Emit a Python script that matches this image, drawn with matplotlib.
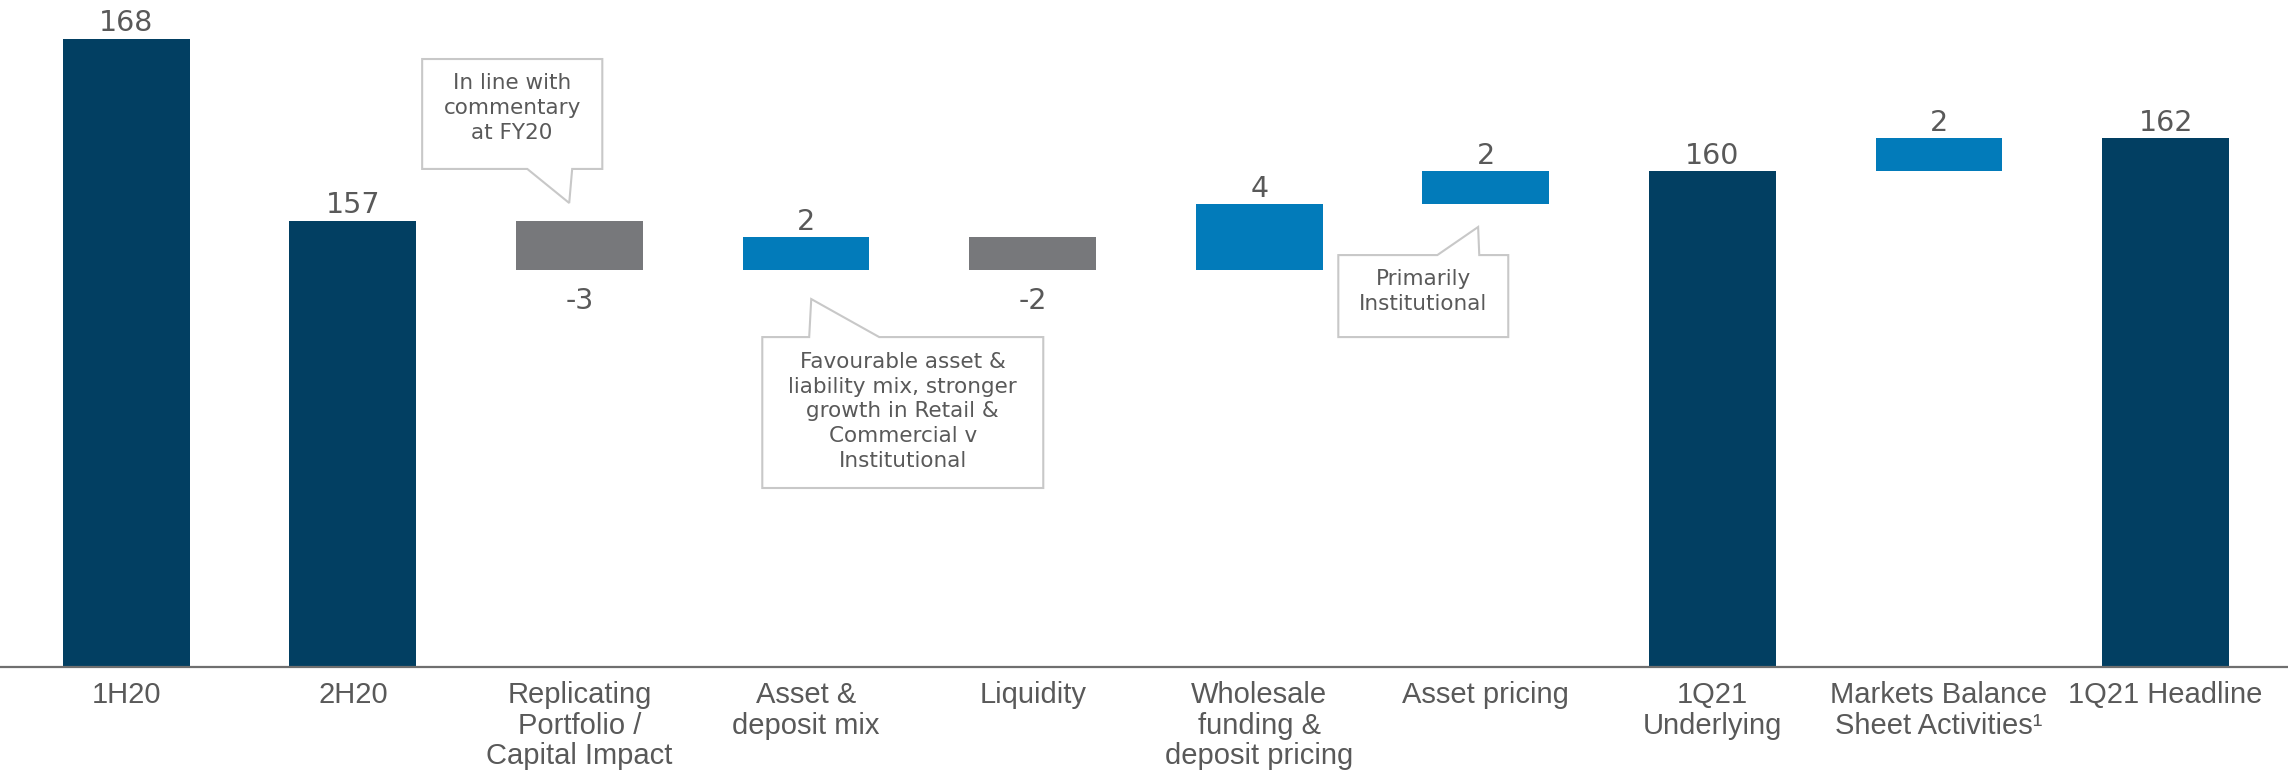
import matplotlib.pyplot as plt
from matplotlib.patches import Polygon

categories = ["1H20", "2H20", "Replicating\nPortfolio /\nCapital Impact", "Asset &\ndeposit mix",
              "Liquidity", "Wholesale\nfunding &\ndeposit pricing", "Asset pricing",
              "1Q21\nUnderlying", "Markets Balance\nSheet Activities\u00b9", "1Q21 Headline"]
values = [168, 157, -3, 2, -2, 4, 2, 160, 2, 162]
is_total = [True, True, False, False, False, False, False, True, False, True]

NAVY = "#023f62"
BLUE = "#027bba"
GREY = "#77787b"
TEXT = "#595959"

fig = plt.figure(figsize=(22.88, 7.74), dpi=100)
ax = fig.add_axes([0, 0.1382, 1, 0.8618])

# waterfall bars
running = 0
for i, (v, tot) in enumerate(zip(values, is_total)):
    if tot:
        ax.bar(i, v, width=0.56, bottom=0, color=NAVY)
        running = v
        ax.annotate(str(v), (i, v), xytext=(0, 1), textcoords="offset points",
                    ha="center", va="bottom", fontsize=20.5, color=TEXT)
    else:
        col = BLUE if v > 0 else GREY
        ax.bar(i, v, width=0.56, bottom=running, color=col)
        if v > 0:
            ax.annotate(str(v), (i, running + v), xytext=(0, 1), textcoords="offset points",
                        ha="center", va="bottom", fontsize=20.5, color=TEXT)
        else:
            ax.annotate(str(v), (i, running + v), xytext=(0, -12), textcoords="offset points",
                        ha="center", va="top", fontsize=20.5, color=TEXT)
        running += v

ax.set_xlim(-0.557, 9.54)
ax.set_ylim(130, 170.35)
ax.set_xticks(range(len(categories)))
ax.set_xticklabels(categories, fontsize=21, color=TEXT, family="Liberation Sans", linespacing=1.12)
ax.tick_params(axis="x", length=0, pad=10)
ax.set_yticks([])
for s in ["top", "left", "right"]:
    ax.spines[s].set_visible(False)
ax.spines["bottom"].set_color("#6f6f6f")
ax.spines["bottom"].set_linewidth(1.6)

# callout boxes
callouts = [
    ([(1.306, 166.78), (2.101, 166.78), (2.101, 160.13), (1.968, 160.13), (1.955, 158.07),
      (1.770, 160.13), (1.306, 160.13)], (1.703, 163.82), "In line with\ncommentary\nat FY20"),
    ([(2.807, 140.83), (2.807, 149.96), (3.014, 149.96), (3.023, 152.26), (3.323, 149.96),
      (4.047, 149.96), (4.047, 140.83)], (3.427, 145.46),
     "Favourable asset &\nliability mix, stronger\ngrowth in Retail &\nCommercial v\nInstitutional"),
    ([(5.349, 149.96), (5.349, 154.92), (5.786, 154.92), (5.966, 156.62), (5.971, 154.92),
      (6.099, 154.92), (6.099, 149.96)], (5.724, 152.72), "Primarily\nInstitutional"),
]
for verts, pos, txt in callouts:
    ax.add_patch(Polygon(verts, closed=True, facecolor="white", edgecolor="#c8c8c8", lw=1.5, zorder=3))
    ax.text(pos[0], pos[1], txt, ha="center", va="center", fontsize=15.5, color=TEXT,
            linespacing=1.3, zorder=4)

fig.savefig("out.png", dpi=100)
